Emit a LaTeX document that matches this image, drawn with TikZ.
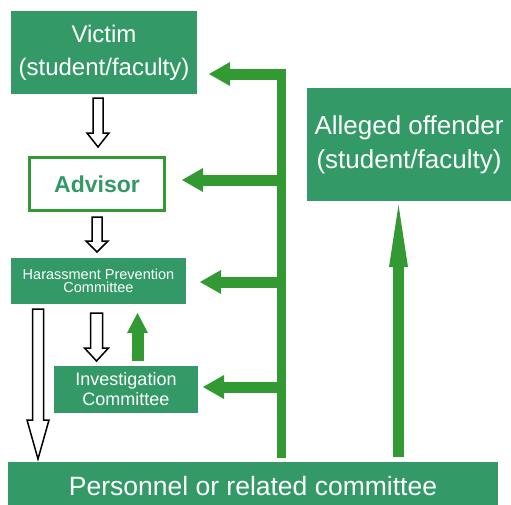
\documentclass[tikz,border=0pt]{standalone}
\usepackage{fontspec}
\setmainfont{Liberation Sans}
\usetikzlibrary{arrows.meta,calc}
\definecolor{boxgreen}{RGB}{51,153,102}
\definecolor{arrgreen}{RGB}{51,153,51}
\newcommand{\hollowdown}[6]{%
  \draw[hollow] (#1-#4,#2) -- (#1+#4,#2) -- (#1+#4,#3-#6) -- (#1+#5,#3-#6) -- (#1,#3)
     -- (#1-#5,#3-#6) -- (#1-#4,#3-#6) -- cycle;}
\begin{document}
\begin{tikzpicture}[x=1pt,y=-1pt,
  box/.style={fill=boxgreen, text=white, inner sep=0pt, align=center},
  hollow/.style={draw=black, fill=white, line width=1.5pt, line join=miter},
  garrow/.style={draw=arrgreen, line width=11pt, -{Triangle[length=21pt,width=24pt,line width=0pt]}},
  bus/.style={draw=arrgreen, line width=9pt}
]
\useasboundingbox (0,0) rectangle (511,504);
% boxes
\node[box, minimum width=186pt, minimum height=83pt, font=\fontsize{24}{33}\selectfont] (victim) at (104,52.5) {Victim\\(student/faculty)};
\node[draw=arrgreen, line width=3pt, fill=white, text=boxgreen, inner sep=0pt,
      minimum width=135pt, minimum height=53pt, font=\bfseries\fontsize{23}{28}\selectfont] (advisor) at (97,184) {Advisor};
\node[box, minimum width=175pt, minimum height=46pt, font=\fontsize{14.5}{13}\selectfont] (hpc) at (98.5,281) {Harassment Prevention\\Committee};
\node[box, minimum width=144pt, minimum height=47pt, font=\fontsize{18}{20}\selectfont] (ic) at (126,389.5) {Investigation\\Committee};
\node[box, minimum width=490pt, minimum height=48pt, font=\fontsize{26.5}{30}\selectfont] (pers) at (253,486) {Personnel or related committee};
\node[box, minimum width=204pt, minimum height=113pt, font=\fontsize{26}{34}\selectfont] (off) at (409,144.5) {Alleged offender\\(student/faculty)};
% bus and branch arrows
\coordinate (bustop) at (281.5,68.5);
\coordinate (busbot) at (281.5,458);
\coordinate (tipV) at (209,74);
\coordinate (tipA) at (182,180);
\coordinate (tipH) at (200,282);
\coordinate (tipI) at (203,387);
\draw[bus] (bustop) -- (busbot);
\draw[garrow] (bustop |- tipV) -- (tipV);
\draw[garrow] (bustop |- tipA) -- (tipA);
\draw[garrow] (bustop |- tipH) -- (tipH);
\draw[garrow] (bustop |- tipI) -- (tipI);
% up arrows
\coordinate (icup0) at (137.5,361);
\coordinate (icup1) at (137.5,313);
\draw[draw=arrgreen, line width=12pt, -{Triangle[length=20pt,width=21pt,line width=0pt]}] (icup0) -- (icup1);
\coordinate (offup0) at (398.5,457);
\coordinate (offup1) at (398.5,205);
\draw[draw=arrgreen, line width=11pt, -{Triangle[length=62pt,width=19pt,line width=0pt]}] (offup0) -- (offup1);
% hollow arrows
\hollowdown{98}{98}{147}{5}{11}{14}
\hollowdown{97}{217}{252}{5}{11}{11}
\hollowdown{96.5}{313}{361}{6}{12}{13}
\hollowdown{38}{309}{459}{5.5}{11}{39}
\end{tikzpicture}
\end{document}
